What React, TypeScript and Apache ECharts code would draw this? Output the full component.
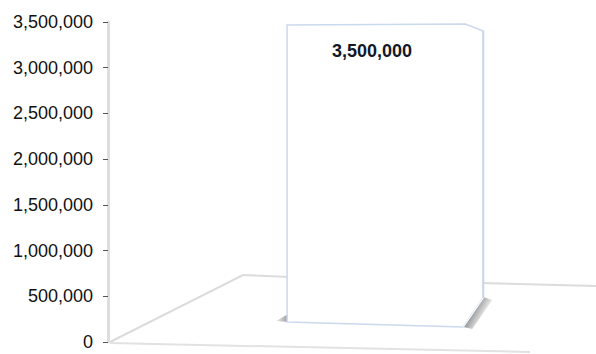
import React, { useEffect, useRef } from "react";
import * as echarts from "echarts";

const categories: string[] = ["Total"];
const values: number[] = [3500000];
const yTicks: number[] = [0, 500000, 1000000, 1500000, 2000000, 2500000, 3000000, 3500000];

const fmt = (v: number) => v.toLocaleString("en-US");

export default function App() {
  const ref = useRef<HTMLDivElement>(null);
  useEffect(() => {
    if (!ref.current) return;
    const chart = echarts.init(ref.current, undefined, { renderer: "svg" });
    const option: any = {
      animation: false,
      backgroundColor: "#ffffff",
      grid: { left: 108, right: 0, top: 22, bottom: 12 },
      xAxis: {
        type: "category",
        data: categories,
        show: false,
      },
      yAxis: {
        type: "value",
        min: yTicks[0],
        max: yTicks[yTicks.length - 1],
        interval: yTicks[1] - yTicks[0],
        axisLine: { show: true, lineStyle: { color: "#dedede", width: 3 } },
        axisTick: { show: true, length: 5, lineStyle: { color: "#555", width: 1 } },
        splitLine: { show: false },
        axisLabel: {
          margin: 15,
          color: "#111111",
          fontFamily: "Liberation Sans, Arial, sans-serif",
          fontSize: 18,
          formatter: (v: number) => fmt(v),
        },
      },
      graphic: [
        {
          type: "polyline",
          silent: true,
          z: 0,
          shape: { points: [[110, 342], [243, 275], [290, 277]] },
          style: { stroke: "#dcdcdc", lineWidth: 2, fill: null },
        },
        {
          type: "polyline",
          silent: true,
          z: 0,
          shape: { points: [[480, 283], [596, 286]] },
          style: { stroke: "#dcdcdc", lineWidth: 2, fill: null },
        },
        {
          type: "line",
          silent: true,
          z: 0,
          shape: { x1: 110, y1: 343, x2: 530, y2: 352 },
          style: { stroke: "#e2e2e2", lineWidth: 2 },
        },
      ],
      series: [
        {
          type: "custom",
          data: values.map((v, i) => [i, v]),
          encode: { x: 0, y: 1 },
          z: 5,
          renderItem: (params: any, api: any) => {
            const xi = api.value(0);
            const val = api.value(1);
            const [cx, y0] = api.coord([xi, 0]);
            const [, yTop] = api.coord([xi, val]);
            const band = api.size([1, 0])[0];
            const bw = band * 0.402;
            const center = cx + band * 0.068;
            const left = center - bw / 2;
            const right = center + bw / 2;
            return {
              type: "group",
              children: [
                {
                  type: "polygon",
                  shape: {
                    points: [
                      [right, y0 - 45],
                      [right + 9, y0 - 42],
                      [right - 11, y0 - 13],
                      [right - 20, y0 - 15],
                    ],
                  },
                  style: {
                    fill: {
                      type: "linear",
                      x: 0.35, y: 0.3, x2: 0.75, y2: 0.55,
                      colorStops: [
                        { offset: 0, color: "#8a8a8a" },
                        { offset: 0.5, color: "#bdbdbd" },
                        { offset: 1, color: "#f0f0f0" },
                      ],
                    },
                  },
                },
                {
                  type: "polygon",
                  shape: {
                    points: [
                      [left - 11, y0 - 21],
                      [left + 1, y0 - 28],
                      [left + 1, y0 - 20],
                    ],
                  },
                  style: {
                    fill: {
                      type: "linear",
                      x: 1, y: 0, x2: 0, y2: 0,
                      colorStops: [
                        { offset: 0, color: "#9a9a9a" },
                        { offset: 1, color: "#eeeeee" },
                      ],
                    },
                  },
                },
                {
                  type: "polygon",
                  shape: {
                    points: [
                      [left, yTop + 3],
                      [right - 18, yTop + 2],
                      [right, yTop + 9],
                      [right, y0 - 44],
                      [right - 20, y0 - 15],
                      [left, y0 - 20],
                    ],
                  },
                  style: { fill: "#ffffff", stroke: "#cbd9ee", lineWidth: 1.5 },
                },
                {
                  type: "line",
                  shape: { x1: right, y1: yTop + 9, x2: right, y2: y0 - 44 },
                  style: { stroke: "#c9d6ea", lineWidth: 2 },
                },
                {
                  type: "line",
                  shape: { x1: right - 20, y1: y0 - 15, x2: right, y2: y0 - 44 },
                  style: { stroke: "#ffffff", lineWidth: 1 },
                },
                {
                  type: "text",
                  style: {
                    text: fmt(val),
                    x: left + 85,
                    y: yTop + 29,
                    align: "center",
                    verticalAlign: "middle",
                    fill: "#111827",
                    font: "bold 18px 'Liberation Sans', Arial, sans-serif",
                  },
                },
              ],
            };
          },
        },
      ],
    };
    chart.setOption(option);
    return () => chart.dispose();
  }, []);
  return (
    <div
      ref={ref}
      style={{ position: "absolute", left: 0, top: 0, width: 596, height: 354 }}
    />
  );
}
